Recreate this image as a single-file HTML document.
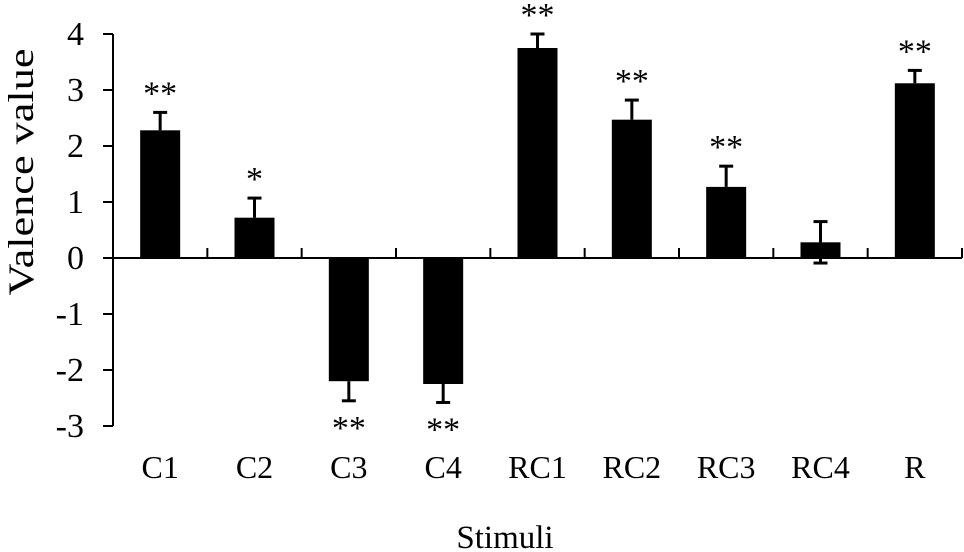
<!DOCTYPE html>
<html><head><meta charset="utf-8"><style>
html,body{margin:0;padding:0;background:#fff;}
svg{display:block;font-family:"Liberation Serif",serif;}
</style></head><body>
<svg id="chart" width="964" height="552" viewBox="0 0 964 552" xmlns="http://www.w3.org/2000/svg">
<g id="axes"></g><g id="bars"></g><g id="labels"></g>
<text x="0" y="0" transform="translate(33,172) rotate(-90)" text-anchor="middle" font-size="36" textLength="247" lengthAdjust="spacingAndGlyphs">Valence value</text>
<text x="505" y="548" text-anchor="middle" font-size="33">Stimuli</text>
</svg>
<script>
const categories = ["C1","C2","C3","C4","RC1","RC2","RC3","RC4","R"];
const values = [2.28,0.72,-2.2,-2.25,3.75,2.47,1.27,0.28,3.12];
const errors = [0.32,0.35,0.35,0.33,0.25,0.35,0.37,0.37,0.23];
const significance = ["**","*","**","**","**","**","**","","**"];
const yTicks = [4,3,2,1,0,-1,-2,-3];

const NS = "http://www.w3.org/2000/svg";
const left = 113, right = 962, yTop = 34, yBot = 426, vMax = 4, vMin = -3;
const y = v => yTop + (vMax - v) / (vMax - vMin) * (yBot - yTop);
const band = (right - left) / categories.length;
const x = i => left + band * (i + 0.5);
function mk(tag, attrs, parent){const e=document.createElementNS(NS,tag);for(const k in attrs)e.setAttribute(k,attrs[k]);parent.appendChild(e);return e;}
const axes=document.getElementById('axes'), bars=document.getElementById('bars'), labels=document.getElementById('labels');

let e = mk('line',{x1:left,x2:left,y1:yTop,y2:yBot,stroke:'#000','stroke-width':2},axes);


e = mk('line',{x1:left,x2:right,y1:y(0),y2:y(0),stroke:'#000','stroke-width':2},axes);


yTicks.forEach(t=>{
  const l = mk('line',{x1:left-10,x2:left,y1:y(t),y2:y(t),stroke:'#000','stroke-width':2},axes);
  
  
  const tx = mk('text',{x:84,y:y(t)+11,'text-anchor':'end','font-size':34},labels);
  tx.textContent = t;
  
  
});
for(let i=1;i<=categories.length;i++){
  const xx = left + band*i;
  const l = mk('line',{x1:xx,x2:xx,y1:y(0)-10,y2:y(0),stroke:'#000','stroke-width':2},axes);
  
  
}
const bw = 40, cap = 7;
categories.forEach((c,i)=>{
  const v = values[i], cx = x(i);
  const r = mk('rect',{x:cx-bw/2,y:Math.min(y(v),y(0)),width:bw,height:Math.abs(y(v)-y(0)),fill:'#000'},bars);
  
  
  const dir = v>=0?1:-1;
  const y1 = y(v), y2 = y(v + dir*errors[i]);
  const g = mk('g',{},bars);
  
  
  mk('line',{x1:cx,x2:cx,y1:y1,y2:y2,stroke:'#000','stroke-width':3},g);
  mk('line',{x1:cx-cap,x2:cx+cap,y1:y2,y2:y2,stroke:'#000','stroke-width':3},g);
  if(c==="RC4"){
    const y3 = y(v - errors[i]);
    mk('line',{x1:cx,x2:cx,y1:y1,y2:y3,stroke:'#000','stroke-width':3},g);
    mk('line',{x1:cx-cap,x2:cx+cap,y1:y3,y2:y3,stroke:'#000','stroke-width':3},g);
  }
  const s = significance[i];
  if(s){
    const sy = dir>0 ? y2 - 8 : y2 + 38;
    const st = mk('text',{x:cx,y:sy,'text-anchor':'middle','font-size':34},labels);
    st.textContent = s;
    
    
  }
  const lt = mk('text',{x:cx,y:478,'text-anchor':'middle','font-size':32},labels);
  lt.textContent = c;
  
  
});
</script>
</body></html>
